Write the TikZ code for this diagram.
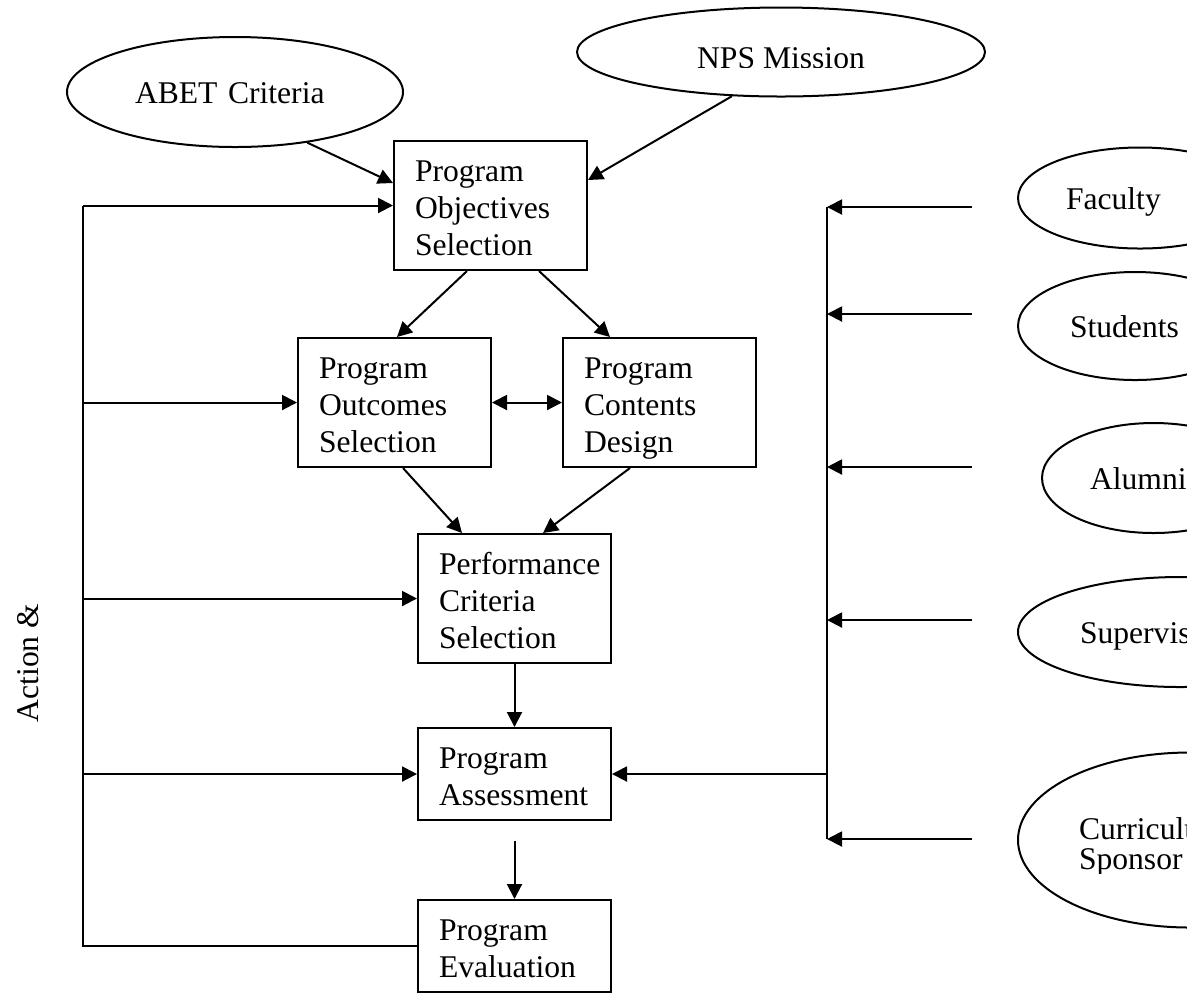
\documentclass[tikz,border=0pt]{standalone}
\usepackage{fontspec}
\setmainfont{Liberation Serif}
\usetikzlibrary{arrows.meta,shapes.geometric,calc}

\hyphenpenalty=10000

\tikzset{
  stage/.style={draw, rectangle, align=left, text width=75.5pt,
    inner xsep=10.5pt, inner ysep=0pt,
    execute at begin node={\vrule width 0pt height 20pt\relax},
    execute at end node={\vrule width 0pt height 0pt depth 7.5pt\relax}},
  oval/.style 2 args={draw, ellipse, inner sep=0pt, minimum width=#1,
    minimum height=#2, text height=11pt, text depth=0pt},
}

\begin{document}
\begin{tikzpicture}
  [x=0.5pt, y=-0.5pt, line width=1pt, >={Triangle[length=7.5pt,width=7.5pt]},
   font=\fontsize{15.8pt}{18.5pt}\selectfont]
  \useasboundingbox (0,0) rectangle (1187,993);

  % process stages
  \node[stage] (obj) at (490.5,205.5) {Program\\Objectives\\Selection};
  \node[stage] (outc) at (394.5,402.5) {Program\\Outcomes\\Selection};
  \node[stage] (cont) at (659.5,402.5) {Program\\Contents\\Design};
  \node[stage] (perf) at (514.5,598.5) {Performance\\Criteria\\Selection};
  \node[stage] (assess) at (514.5,774) {Program\\Assessment};
  \node[stage] (eval) at (514.5,946) {Program\\Evaluation};

  % inputs
  \node[oval={168pt}{55pt}, text width=100pt, align=left] (abet) at (235,92) {ABET Criteria};
  \node[oval={204pt}{44.5pt}] (nps) at (781,52) {};
  \node[oval={122pt}{50.5pt}, text width=74pt, align=left] (fac) at (1140,198) {Faculty};
  \node[oval={117pt}{54pt}, text width=65pt, align=left] (stu) at (1135,326) {Students};
  \node[oval={111.5pt}{55pt}, text width=63.5pt, align=left] (alu) at (1153.5,478) {Alumni};
  \node[oval={162pt}{55pt}, text width=100pt, align=left] (sup) at (1180,632) {Supervisors};
  \node[oval={172pt}{87.5pt}] (cur) at (1190,840) {};

  % text cut off at the bottom of its box
  \begin{scope}
    \clip (577,0) rectangle (985,67);
    \node[anchor=base] (npstext) at (781,68) {NPS Mission};
  \end{scope}
  \begin{scope}
    \clip (1018,752) rectangle (1187,873);
    \node[anchor=north west, align=left, inner sep=0pt,
      font=\fontsize{15.8pt}{15pt}\selectfont] (curtext) at (1078,817) {Curriculum\\Sponsor};
  \end{scope}

  \node[rotate=90] (act) at (28,663) {Action \&};

  % main flow
  \draw[->] (abet.-35) -- ($(obj.west)+(0,-22.5)$);
  \draw[->] (nps.222) -- ($(obj.east)+(0,-25.5)$);
  \draw[->] ($(obj.south)+(-23.5,0)$) -- ($(outc.north)+(2.5,0)$);
  \draw[->] ($(obj.south)+(48.5,0)$) -- ($(cont.north)+(-49.5,0)$);
  \draw[<->] (outc) -- (cont);
  \draw[->] ($(outc.south)+(8.5,0)$) -- ($(perf.north)+(-52.5,0)$);
  \draw[->] ($(cont.south)+(-29.5,0)$) -- ($(perf.north)+(28.5,0)$);
  \draw[->] (perf) -- (assess);
  \draw[->] ($(assess.south)+(0,20)$) -- (eval);

  % feedback loop on the left
  \coordinate (fb) at (83,0);
  \draw (eval.west) -- (fb |- eval.west) -- (fb |- obj.west);
  \foreach \n in {obj,outc,perf,assess} \draw[->] (fb |- \n.west) -- (\n.west);

  % input bus on the right
  \coordinate (bus) at (827,0);
  \foreach \y [count=\i] in {207,314,467,620,839} \coordinate (in\i) at (972,\y);
  \foreach \i in {1,...,5} \draw[->] (in\i) -- (bus |- in\i);
  \draw (bus |- in1) -- (bus |- in5);
  \draw[->] (bus |- assess.east) -- (assess.east);
\end{tikzpicture}
\end{document}
